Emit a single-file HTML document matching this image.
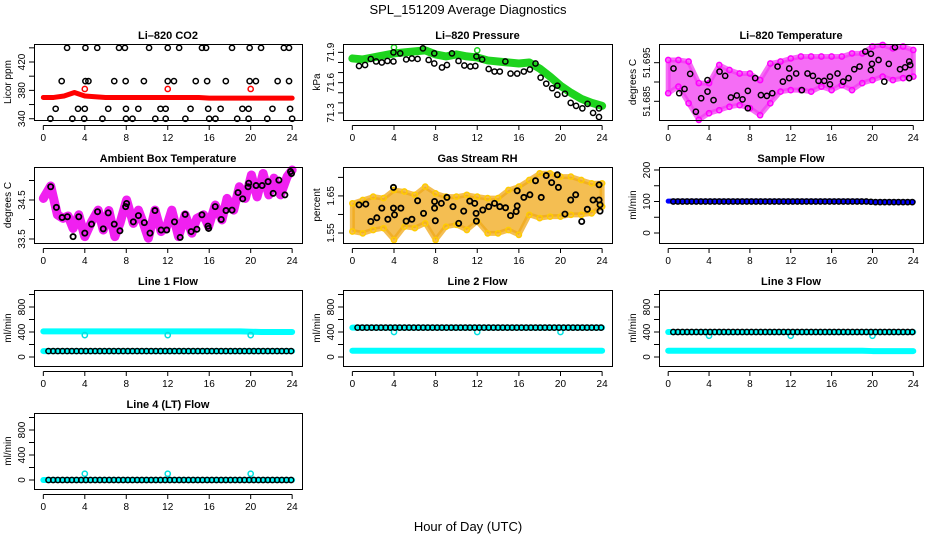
<!DOCTYPE html>
<html><head><meta charset="utf-8"><style>
html,body{margin:0;padding:0;background:#fff;}
svg{display:block;font-family:"Liberation Sans",sans-serif;}
</style></head><body>
<svg id="chart" width="936" height="540" viewBox="0 0 936 540" xmlns="http://www.w3.org/2000/svg">
<rect x="0" y="0" width="936" height="540" fill="#fff"/>
<text x="468" y="14" text-anchor="middle" font-size="13">SPL_151209  Average Diagnostics</text>
<text x="468" y="531" text-anchor="middle" font-size="13">Hour of Day (UTC)</text>
</svg>
<script>
// ---------- data ----------
const hourTicks = [0,4,8,12,16,20,24];
const hours = [0,1,2,3,4,5,6,7,8,9,10,11,12,13,14,15,16,17,18,19,20,21,22,23,24];

const co2Line = [370,370,372,377,372,371,370,370,370,370,370,370,370,370,370,370,369,369,369,369,369,369,369,369,369];
const co2RedHours = [4,12,20];
const co2RedVals = [382,382,382];
const co2BlackHours = [2.29,4.06,5.2,7.3,7.87,10.2,12.0,13.1,15.3,15.7,18.2,19.9,21.0,23.2,23.7,
 1.77,4.06,4.35,6.84,7.94,9.7,12.0,12.6,14.7,15.8,17.6,19.9,20.5,22.6,23.7,
 1.19,3.35,4.0,6.26,7.97,9.16,11.3,11.8,14.2,15.9,17.1,19.2,19.8,22.1,23.8,
 0.68,2.8,3.94,5.7,7.97,8.6,10.8,11.8,13.7,16.0,16.6,18.7,19.8,21.6,24.0];
const co2BlackVals = [440,440,440,440,440,440,440,440,440,440,440,440,440,440,440,
 393,393,393,393,393,393,393,393,393,393,393,393,393,393,393,
 354,354,354,354,354,354,354,354,354,354,354,354,354,354,354,
 340,340,340,340,340,340,340,340,340,340,340,340,340,340,340];

const pressBand = [71.84,71.83,71.85,71.87,71.89,71.90,71.91,71.92,71.88,71.86,71.88,71.86,71.85,71.82,71.81,71.80,71.79,71.80,71.74,71.66,71.57,71.50,71.44,71.40,71.37];
const pressHours = [0.64,1.22,1.77,2.28,2.83,3.37,3.95,3.95,4.6,5.17,5.72,6.27,6.78,7.33,7.87,7.87,8.61,9.09,9.57,10.2,10.76,11.34,11.82,11.92,12.47,13.1,13.66,14.17,14.7,15.2,15.84,16.48,17.06,17.6,18.09,18.63,19.2,19.7,19.7,20.43,20.98,21.5,22.1,22.6,23.13,23.7,23.7];
const pressVals = [71.765,71.775,71.835,71.81,71.80,71.815,71.90,71.81,71.89,71.83,71.84,71.835,71.94,71.825,71.89,71.79,71.75,71.775,71.89,71.815,71.77,71.76,71.765,71.86,71.83,71.735,71.71,71.71,71.81,71.69,71.69,71.71,71.73,71.79,71.65,71.59,71.545,71.57,71.48,71.49,71.40,71.37,71.345,71.39,71.30,71.345,71.26];
const pressGreenHours = [4,12];
const pressGreenVals = [71.95,71.92];

const liTempHi = [51.6957,51.6957,51.6953,51.6897,51.6897,51.6944,51.6931,51.6922,51.6922,51.6905,51.6948,51.6953,51.6961,51.6966,51.6966,51.6966,51.6966,51.6966,51.6974,51.6974,51.6992,51.6996,51.6987,51.6992,51.6983];
const liTempLo = [51.6871,51.6888,51.6845,51.6802,51.6819,51.6827,51.6836,51.6840,51.6832,51.6814,51.6845,51.6875,51.6879,51.6879,51.6875,51.6888,51.6879,51.6892,51.6879,51.6897,51.6905,51.6914,51.6905,51.6910,51.6914];
const liTempHours = [0.52,1.08,1.6,2.15,2.71,3.23,3.85,3.85,4.44,5.03,5.58,6.14,6.72,7.28,7.8,7.8,8.52,9.08,9.66,10.19,10.71,11.23,11.85,11.85,12.53,13.09,13.64,14.17,14.72,15.28,15.84,15.84,16.58,17.13,17.66,18.22,18.74,19.3,19.85,19.85,19.95,20.6,21.16,21.6,22.2,22.7,23.2,23.6,23.6,23.7];
const liTempVals = [51.6935,51.6871,51.6882,51.6921,51.6823,51.6858,51.6905,51.6875,51.6853,51.6927,51.6916,51.6860,51.6865,51.6855,51.6877,51.6832,51.6910,51.6866,51.6864,51.6871,51.6940,51.6901,51.6910,51.6935,51.6922,51.6879,51.6922,51.6916,51.6903,51.6903,51.6914,51.6894,51.6922,51.6901,51.6910,51.6933,51.6940,51.6979,51.6973,51.6931,51.6947,51.6957,51.6901,51.6947,51.6990,51.6933,51.6938,51.6953,51.6910,51.6944];

const ambBandHours = [0,0.71,1.36,1.9,2.39,2.87,3.42,4.0,4.65,5.29,5.78,6.32,6.9,7.39,8.03,8.68,9.17,9.65,10.13,10.77,11.36,11.9,12.39,13.04,13.68,14.33,14.81,15.46,15.94,16.58,17.23,17.72,18.36,18.91,19.49,20.07,20.62,21.2,21.75,22.24,22.88,23.52,24.0];
const ambBandVals = [34.54,34.86,34.12,34.03,34.09,33.77,34.12,33.56,33.94,34.24,33.73,34.23,33.56,33.9,34.5,33.9,34.24,33.9,33.52,34.24,33.69,33.82,34.24,33.56,34.12,33.65,34.03,34.12,33.82,34.37,33.99,34.54,34.24,34.84,34.54,35.14,34.58,35.18,34.63,35.06,34.63,35.1,35.27];
const ambHours = [0.71,1.26,1.81,2.32,2.87,3.42,4.0,4.65,5.23,5.78,6.26,6.84,7.39,7.94,8.03,8.68,9.17,9.74,10.29,10.77,11.36,11.9,12.65,13.2,13.68,14.26,14.81,15.3,15.88,15.94,16.58,17.16,17.62,18.2,18.78,19.23,19.75,19.81,20.52,21.1,21.68,22.17,22.72,23.3,23.84,23.94];
const ambVals = [34.84,34.31,34.05,34.07,33.56,34.07,33.65,33.88,34.2,33.76,34.17,33.88,33.71,34.33,34.41,33.94,34.1,33.92,33.65,34.23,33.73,33.73,33.94,33.54,34.13,33.69,33.75,34.12,33.83,33.77,34.33,34.0,34.23,34.24,34.69,34.53,34.84,34.93,34.87,34.87,34.97,34.67,35.01,34.63,35.23,35.18];

const rhHi = [1.630,1.639,1.648,1.644,1.666,1.662,1.653,1.675,1.657,1.648,1.648,1.653,1.648,1.644,1.644,1.666,1.675,1.693,1.711,1.711,1.702,1.702,1.693,1.684,1.684];
const rhLo = [1.554,1.549,1.558,1.563,1.531,1.567,1.563,1.576,1.531,1.567,1.572,1.558,1.581,1.549,1.549,1.558,1.545,1.599,1.590,1.594,1.594,1.599,1.599,1.603,1.621];
const rhHours = [0.64,1.29,1.77,2.35,2.83,3.41,3.95,3.95,4.05,4.66,5.17,5.72,6.27,6.84,7.9,7.9,7.97,8.55,9.09,9.67,10.22,10.7,11.28,11.76,11.89,11.92,12.53,13.11,13.66,14.17,14.72,15.2,15.74,15.84,15.84,16.48,17.06,17.6,18.15,18.63,19.15,19.7,19.8,20.43,20.98,21.46,22.04,22.58,23.13,23.71,23.71,23.8,23.8];
const rhVals = [1.626,1.628,1.581,1.591,1.617,1.587,1.617,1.673,1.599,1.617,1.582,1.587,1.637,1.603,1.635,1.617,1.583,1.630,1.646,1.621,1.576,1.609,1.636,1.630,1.603,1.582,1.612,1.621,1.630,1.621,1.618,1.597,1.608,1.664,1.623,1.646,1.653,1.691,1.646,1.705,1.686,1.707,1.673,1.601,1.639,1.653,1.581,1.614,1.639,1.639,1.680,1.626,1.609];

const flowHours = [0.5,0.95,1.4,1.85,2.3,2.75,3.2,3.65,4.1,4.55,5.0,5.45,5.9,6.35,6.8,7.25,7.7,8.15,8.6,9.05,9.5,9.95,10.4,10.85,11.3,11.75,12.2,12.65,13.1,13.55,14.0,14.45,14.9,15.35,15.8,16.25,16.7,17.15,17.6,18.05,18.5,18.95,19.4,19.85,20.3,20.75,21.2,21.65,22.1,22.55,23.0,23.45,23.9];
const sampleBand = [101,101,101,101,101,101,101,101,101,101,101,101,101,101,101,101,101,101,101,101,99,99,99,99,99];
const sampleBlack = [100,100,100,100,100,100,100,100,100,100,100,100,100,100,100,100,100,100,100,100,100,100,100,100,100,100,100,100,100,100,100,100,100,100,100,100,100,100,100,100,100,100,100,99,98,98,98,98,98,98,98,98,98];
const line1Upper = [410,410,410,410,410,410,410,410,410,410,410,410,410,410,410,410,410,410,410,410,405,400,400,400,400];
const line1Lower = [95,95,95,95,95,95,95,95,95,95,95,95,95,95,95,95,95,95,95,95,95,95,95,95,95];
const line1Black = [95,95,95,95,95,95,95,95,95,95,95,95,95,95,95,95,95,95,95,95,95,95,95,95,95,95,95,95,95,95,95,95,95,95,95,95,95,95,95,95,95,95,95,95,95,95,95,95,95,95,95,95,95];
const line2Upper = [470,470,470,470,470,470,470,470,470,470,470,470,470,470,470,470,470,470,470,470,470,470,470,470,470];
const line2Lower = [100,100,100,100,100,100,100,100,100,100,100,100,100,100,100,100,100,100,100,100,100,100,100,100,100];
const line2Black = [470,470,470,470,470,470,470,470,470,470,470,470,470,470,470,470,470,470,470,470,470,470,470,470,470,470,470,470,470,470,470,470,470,470,470,470,470,470,470,470,470,470,470,470,470,470,470,470,470,470,470,470,470];
const line3Upper = [400,400,400,400,400,400,400,400,400,400,400,400,400,400,400,400,400,400,400,400,400,400,400,400,400];
const line3Lower = [100,100,100,100,100,100,100,100,100,100,100,100,100,100,100,100,100,100,100,100,95,95,95,95,95];
const line3Black = [400,400,400,400,400,400,400,400,400,400,400,400,400,400,400,400,400,400,400,400,400,400,400,400,400,400,400,400,400,400,400,400,400,400,400,400,400,400,400,400,400,400,400,400,400,400,400,400,400,400,400,400,400];
const line4Base = [0,0,0,0,0,0,0,0,0,0,0,0,0,0,0,0,0,0,0,0,0,0,0,0,0];
const line4Black = [0,0,0,0,0,0,0,0,0,0,0,0,0,0,0,0,0,0,0,0,0,0,0,0,0,0,0,0,0,0,0,0,0,0,0,0,0,0,0,0,0,0,0,0,0,0,0,0,0,0,0,0,0];
const dipHours = [4,12,20];
const line1Dips = [350,350,350];
const line2Dips = [400,400,400];
const line3Dips = [340,340,340];
const line4Spikes = [100,100,100];

// ---------- drawing ----------
const NS = "http://www.w3.org/2000/svg";
const svg = document.getElementById('chart');
const COLS = [{l:34,r:302},{l:343,r:612},{l:659,r:923}];
const XLIM = [-0.9, 24.95];
const H = 76;
function el(tag, parent){ const e = document.createElementNS(NS, tag); parent.appendChild(e); return e; }

function panel(key, col, row, title, ylab, ylim, yticks, ylabels){
  const c = COLS[col], top = 44 + 123*row, bot = top + H;
  const g = el('g', svg);
  
  
  const x = h => c.l + (h - XLIM[0]) / (XLIM[1]-XLIM[0]) * (c.r - c.l);
  const y = v => bot - (v - ylim[0]) / (ylim[1]-ylim[0]) * H;
  const plot = el('g', g);
  
  
  const box = el('rect', g);
  
  
  box.setAttribute('x', c.l + 0.5); box.setAttribute('y', top + 0.5);
  box.setAttribute('width', c.r - c.l); box.setAttribute('height', H);
  box.setAttribute('fill', 'none'); box.setAttribute('stroke', '#000');
  const t = el('text', g);
  
  
  t.setAttribute('x', (c.l + c.r)/2); t.setAttribute('y', top - 5);
  t.setAttribute('text-anchor', 'middle'); t.setAttribute('font-size', '11'); t.setAttribute('font-weight', 'bold');
  t.textContent = title;
  const yt = el('text', g);
  
  
  const ytx = c.l - 23, yty = (top + bot)/2;
  yt.setAttribute('transform', `translate(${ytx},${yty}) rotate(-90)`);
  yt.setAttribute('text-anchor', 'middle'); yt.setAttribute('font-size', '10');
  yt.textContent = ylab;
  const xa = el('g', g);
  
  
  const xl = el('line', xa);
  xl.setAttribute('x1', x(hourTicks[0])); xl.setAttribute('x2', x(hourTicks[hourTicks.length-1]));
  xl.setAttribute('y1', bot + 5.5); xl.setAttribute('y2', bot + 5.5); xl.setAttribute('stroke', '#000');
  hourTicks.forEach(h => {
    const tk = el('line', xa);
    tk.setAttribute('x1', x(h)); tk.setAttribute('x2', x(h));
    tk.setAttribute('y1', bot + 5.5); tk.setAttribute('y2', bot + 10); tk.setAttribute('stroke', '#000');
    const lb = el('text', xa);
    
    
    lb.setAttribute('x', x(h)); lb.setAttribute('y', bot + 21);
    lb.setAttribute('text-anchor', 'middle'); lb.setAttribute('font-size', '10');
    lb.textContent = h;
  });
  const ya = el('g', g);
  
  
  const yl = el('line', ya);
  yl.setAttribute('x1', c.l + 0.5); yl.setAttribute('x2', c.l + 0.5);
  yl.setAttribute('y1', y(yticks[0])); yl.setAttribute('y2', y(yticks[yticks.length-1])); yl.setAttribute('stroke', '#000');
  yticks.forEach(v => {
    const tk = el('line', ya);
    tk.setAttribute('x1', c.l - 5); tk.setAttribute('x2', c.l + 0.5);
    tk.setAttribute('y1', y(v)); tk.setAttribute('y2', y(v)); tk.setAttribute('stroke', '#000');
  });
  ylabels.forEach(v => {
    const lb = el('text', ya);
    
    
    lb.setAttribute('transform', `translate(${c.l - 9},${y(v)}) rotate(-90)`);
    lb.setAttribute('text-anchor', 'middle'); lb.setAttribute('font-size', '10');
    lb.textContent = String(v);
  });
  return {x, y, g: plot, key};
}

function dots(p, xs, ys, color, name, r, sw){
  const g = el('g', p.g);
  
  
  xs.forEach((h, i) => {
    const c = el('circle', g);
    
    
    c.setAttribute('cx', p.x(h)); c.setAttribute('cy', p.y(ys[i]));
    c.setAttribute('r', r || 2.6); c.setAttribute('fill', 'none');
    c.setAttribute('stroke', color); c.setAttribute('stroke-width', sw || 1.5);
  });
}
function band(p, xs, ys, color, width, name){
  const pl = el('polyline', p.g);
  
  
  pl.setAttribute('points', xs.map((h, i) => p.x(h) + ',' + p.y(ys[i])).join(' '));
  pl.setAttribute('fill', 'none'); pl.setAttribute('stroke', color);
  pl.setAttribute('stroke-width', width); pl.setAttribute('stroke-linejoin', 'round'); pl.setAttribute('stroke-linecap', 'round');
}
function cloud(p, xs, lo, hi, color, name){
  const pg = el('polygon', p.g);
  
  
  const pts = xs.map((h, i) => p.x(h) + ',' + p.y(hi[i])).concat(xs.slice().reverse().map((h, j) => p.x(h) + ',' + p.y(lo[xs.length-1-j])));
  pg.setAttribute('points', pts.join(' '));
  pg.setAttribute('fill', color); pg.setAttribute('fill-opacity', '0.75');
  pg.setAttribute('stroke', color); pg.setAttribute('stroke-opacity', '0.75'); pg.setAttribute('stroke-width', '5'); pg.setAttribute('stroke-linejoin', 'round');
}

const pCO2 = panel('co2', 0, 0, 'Li\u2013820 CO2', 'Licor ppm', [338.2, 445.4], [340,360,380,400,420,440], [340,380,420]);
band(pCO2, hours, co2Line, '#ff0000', 5, 'red-series');
dots(pCO2, co2RedHours, co2RedVals, '#ff0000', 'red-points');
dots(pCO2, co2BlackHours, co2BlackVals, '#000', 'black-points');

const pP = panel('pressure', 1, 0, 'Li\u2013820 Pressure', 'kPa', [71.23, 71.983], [71.3,71.4,71.5,71.6,71.7,71.8,71.9], [71.3,71.6,71.9]);
band(pP, hours, pressBand, '#1ed41e', 8, 'green-series');
dots(pP, pressGreenHours, pressGreenVals, '#1ed41e', 'green-points');
dots(pP, pressHours, pressVals, '#000', 'black-points');

const pT = panel('li-temp', 2, 0, 'Li\u2013820 Temperature', 'degrees C', [51.68016, 51.69984], [51.685,51.69,51.695], [51.685,51.695]);
cloud(pT, hours, liTempLo, liTempHi, '#f23cf2', 'magenta-series');
dots(pT, hours, liTempHi, '#ff00ff', 'magenta-high-points');
dots(pT, hours, liTempLo, '#ff00ff', 'magenta-low-points');
dots(pT, liTempHours, liTempVals, '#000', 'black-points');

const pA = panel('ambient-temp', 0, 1, 'Ambient Box Temperature', 'degrees C', [33.397, 35.346], [33.5,34,34.5,35], [33.5,34.5]);
band(pA, ambBandHours, ambBandVals, '#f020f0', 9, 'magenta-series');
dots(pA, ambHours, ambVals, '#000', 'black-points', 2.6, 1.8);

const pR = panel('gas-rh', 1, 1, 'Gas Stream RH', 'percent', [1.523, 1.728], [1.55,1.6,1.65,1.7], [1.55,1.65]);
cloud(pR, hours, rhLo, rhHi, '#f0a818', 'orange-series');
dots(pR, hours, rhHi, '#ffcc00', 'orange-high-points');
dots(pR, hours, rhLo, '#ffcc00', 'orange-low-points');
dots(pR, rhHours, rhVals, '#000', 'black-points', 2.6, 1.8);

const pS = panel('sample-flow', 2, 1, 'Sample Flow', 'ml/min', [-31.7, 209.5], [0,50,100,150,200], [0,100,200]);
band(pS, hours, sampleBand, '#0000ff', 5, 'blue-series');
dots(pS, flowHours, sampleBlack, '#000', 'black-points');

const FT = [0,200,400,600,800,1000], FL = [0,400,800], FY = [-144, 1072];
const p1 = panel('line1-flow', 0, 2, 'Line 1 Flow', 'ml/min', FY, FT, FL);
band(p1, hours, line1Upper, '#00ffff', 6, 'cyan-upper-series');
band(p1, hours, line1Lower, '#00ffff', 6, 'cyan-lower-series');
dots(p1, dipHours, line1Dips, '#00e0e0', 'cyan-dips');
dots(p1, flowHours, line1Black, '#000', 'black-points');

const p2 = panel('line2-flow', 1, 2, 'Line 2 Flow', 'ml/min', FY, FT, FL);
band(p2, hours, line2Upper, '#00ffff', 6, 'cyan-upper-series');
band(p2, hours, line2Lower, '#00ffff', 6, 'cyan-lower-series');
dots(p2, dipHours, line2Dips, '#00e0e0', 'cyan-dips');
dots(p2, flowHours, line2Black, '#000', 'black-points');

const p3 = panel('line3-flow', 2, 2, 'Line 3 Flow', 'ml/min', FY, FT, FL);
band(p3, hours, line3Upper, '#00ffff', 6, 'cyan-upper-series');
band(p3, hours, line3Lower, '#00ffff', 6, 'cyan-lower-series');
dots(p3, dipHours, line3Dips, '#00e0e0', 'cyan-dips');
dots(p3, flowHours, line3Black, '#000', 'black-points');

const p4 = panel('line4-flow', 0, 3, 'Line 4 (LT) Flow', 'ml/min', FY, FT, FL);
band(p4, hours, line4Base, '#00ffff', 6, 'cyan-series');
dots(p4, dipHours, line4Spikes, '#00e0e0', 'cyan-spikes');
dots(p4, flowHours, line4Black, '#000', 'black-points');
</script>
</body></html>
